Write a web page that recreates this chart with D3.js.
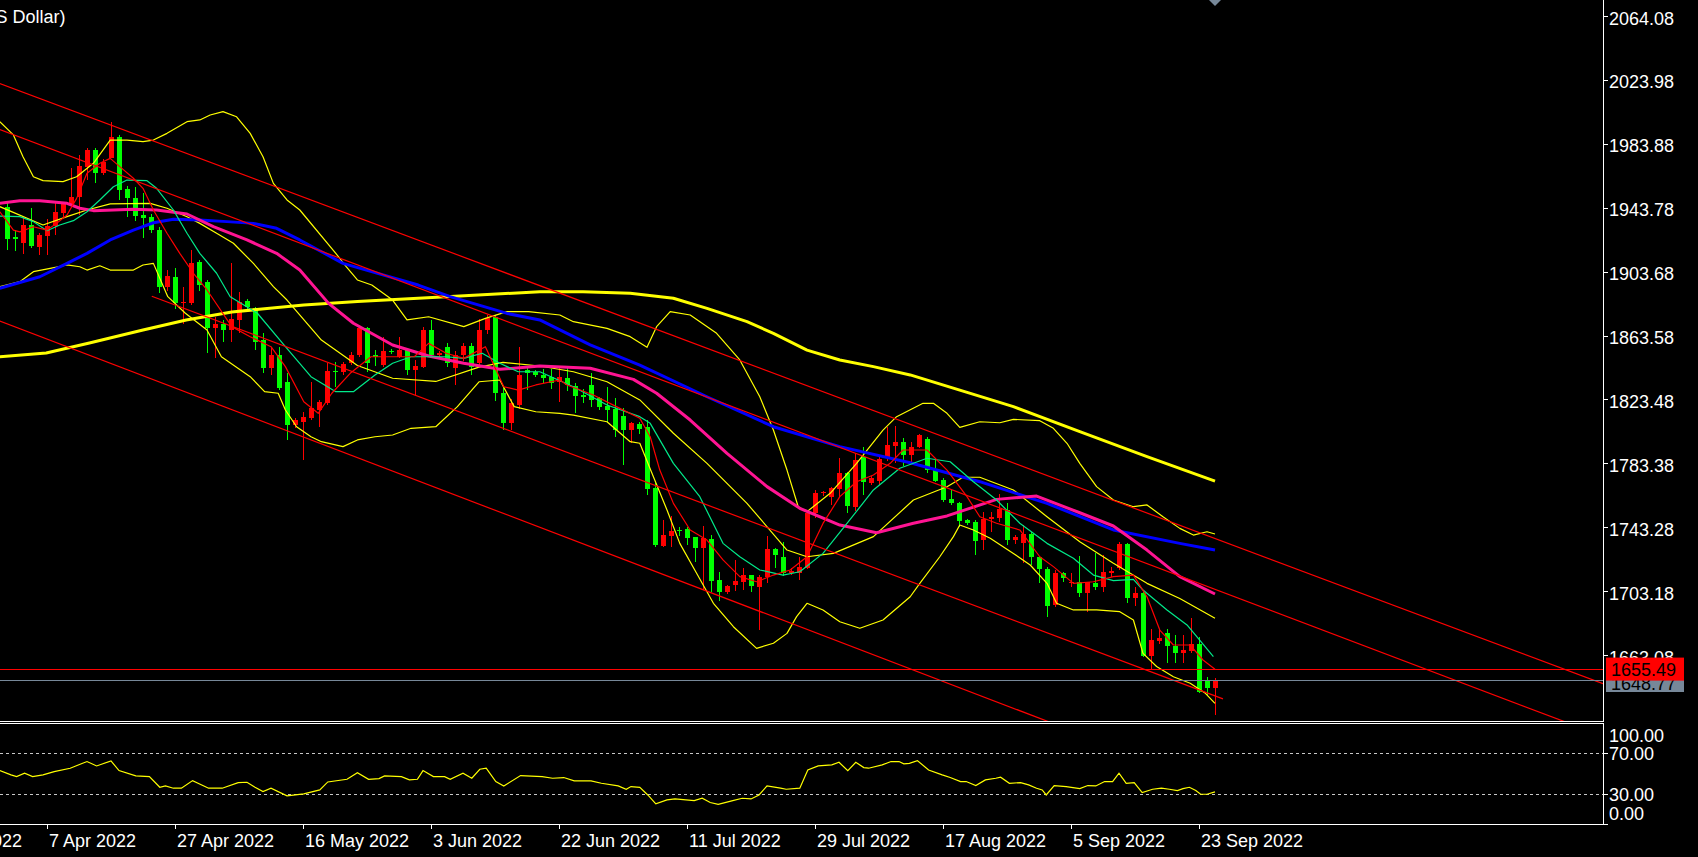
<!DOCTYPE html>
<html><head><meta charset="utf-8">
<script src="https://cdn.jsdelivr.net/npm/d3@7"></script>
<style>html,body{margin:0;padding:0;background:#000;overflow:hidden}text{font-family:"Liberation Sans",Arial,sans-serif;font-size:18px}</style>
</head><body>
<svg id="c" width="1698" height="857"></svg>
<script>
// ---------------- DATA ----------------
const titleText = "Gold (US Dollar)";
// daily bars, index 0 = 1 Apr 2022 ... index 151 = 26 Sep 2022
const open = [1945.7,1926.8,1923.1,1934.2,1920.6,1927.5,1933.7,1941.9,1947.4,1951.6,
1970.8,1981.2,1966.6,1976.0,1989.2,1956.6,1951.3,1940.5,1939.4,1931.0,
1895.5,1901.7,1885.0,1885.0,1910.7,1898.6,1869.7,1872.0,1868.3,1874.6,
1886.5,1881.9,1862.0,1844.2,1852.6,1835.9,1808.7,1810.8,1812.9,1818.1,
1822.3,1842.8,1842.1,1847.4,1852.6,1869.7,1852.6,1846.3,1855.3,1851.5,
1855.7,1843.2,1845.3,1868.3,1852.6,1857.8,1844.2,1852.6,1858.3,1847.4,
1868.3,1876.6,1828.5,1809.7,1821.2,1843.2,1842.0,1840.0,1838.6,1835.9,
1837.9,1833.4,1827.5,1833.8,1825.4,1820.6,1818.7,1814.5,1805.5,1809.3,
1807.6,1768.9,1732.7,1739.0,1742.8,1743.4,1738.2,1731.7,1737.1,1711.4,
1703.7,1708.3,1710.4,1714.5,1707.2,1713.1,1731.0,1726.0,1715.6,1716.0,
1718.7,1753.2,1765.8,1763.3,1768.5,1778.3,1757.4,1788.4,1772.5,1773.7,
1788.8,1795.7,1798.2,1789.8,1794.7,1799.7,1781.0,1774.1,1762.2,1759.5,
1749.0,1747.6,1736.5,1749.4,1750.5,1755.3,1736.5,1734.8,1740.3,1726.0,
1718.3,1695.7,1716.0,1709.7,1709.9,1703.0,1709.7,1706.8,1715.6,1718.7,
1734.0,1699.9,1703.0,1663.9,1673.3,1677.9,1670.0,1665.4,1667.0,1671.2,
1648.2,1643.8];
const high = [1948.0,1931.0,1939.4,1944.7,1929.2,1937.9,1947.8,1948.8,1969.7,1978.1,
1982.3,1982.3,1975.4,1999.0,1990.7,1958.7,1958.2,1954.5,1941.1,1933.1,
1905.9,1907.0,1895.5,1918.5,1912.2,1899.7,1876.6,1874.6,1910.1,1892.3,
1888.0,1882.9,1866.2,1857.8,1857.8,1841.1,1812.8,1817.0,1835.8,1824.4,
1847.4,1848.4,1848.0,1854.7,1870.4,1870.4,1856.0,1864.1,1856.5,1864.1,
1856.7,1849.5,1870.4,1874.6,1855.0,1860.0,1855.0,1860.0,1860.0,1875.0,
1877.5,1878.0,1832.0,1825.0,1857.8,1845.3,1843.5,1844.0,1843.6,1844.2,
1844.9,1834.8,1831.0,1841.1,1826.5,1832.7,1825.4,1819.1,1810.8,1810.8,
1811.8,1772.1,1749.0,1751.8,1744.4,1744.4,1738.6,1745.3,1739.6,1716.6,
1708.3,1723.9,1718.7,1714.8,1714.5,1739.0,1731.3,1735.5,1718.7,1726.0,
1755.3,1767.9,1767.5,1769.9,1787.8,1779.4,1790.9,1795.1,1776.5,1788.8,
1807.6,1808.0,1800.3,1798.2,1803.0,1801.3,1786.7,1775.2,1767.9,1760.5,
1749.5,1749.0,1754.3,1754.3,1765.4,1759.9,1739.6,1745.9,1741.7,1726.5,
1719.8,1717.7,1716.6,1715.6,1726.5,1710.4,1728.5,1727.1,1719.8,1735.5,
1734.4,1707.2,1704.1,1680.4,1680.4,1680.4,1676.9,1676.9,1687.3,1675.8,
1650.3,1649.6];
const low = [1918.5,1918.0,1915.8,1919.6,1915.4,1915.4,1927.9,1939.4,1945.7,1940.5,
1962.4,1960.7,1965.6,1976.0,1949.9,1939.4,1936.9,1926.2,1929.0,1891.3,
1893.0,1881.3,1872.0,1884.0,1893.0,1853.6,1850.5,1860.9,1860.9,1866.2,
1881.0,1855.7,1841.1,1840.0,1830.6,1799.2,1806.5,1786.7,1811.8,1807.6,
1821.2,1832.7,1840.0,1846.3,1851.5,1842.1,1846.0,1845.3,1853.5,1850.5,
1840.0,1827.5,1844.2,1851.5,1850.5,1845.0,1833.8,1849.0,1840.0,1845.3,
1866.0,1824.0,1805.5,1805.5,1819.0,1830.6,1839.0,1835.0,1831.0,1823.3,
1830.0,1816.4,1822.3,1820.2,1818.1,1810.8,1801.4,1783.6,1797.2,1803.0,
1764.7,1732.3,1732.0,1732.3,1739.0,1733.4,1722.9,1705.1,1704.1,1698.2,
1702.6,1704.5,1705.1,1704.1,1680.0,1709.3,1718.7,1713.9,1714.5,1711.4,
1718.1,1750.1,1764.0,1758.5,1763.7,1753.7,1755.0,1764.7,1771.0,1771.0,
1786.0,1784.6,1782.9,1785.6,1794.0,1778.3,1773.1,1760.5,1758.5,1744.9,
1746.0,1727.1,1730.2,1741.7,1748.0,1733.4,1734.0,1721.9,1720.8,1709.3,
1688.4,1694.7,1710.0,1707.2,1700.9,1691.5,1705.1,1704.1,1713.5,1717.7,
1696.7,1695.0,1663.3,1654.9,1671.0,1659.1,1659.1,1659.1,1665.4,1640.3,
1639.2,1626.7];
const close = [1925.4,1925.2,1934.2,1921.2,1927.9,1933.7,1942.1,1947.4,1951.9,1971.2,
1981.2,1966.6,1973.5,1989.2,1956.1,1950.9,1939.8,1938.8,1931.0,1895.5,
1902.2,1885.0,1886.0,1910.1,1896.5,1869.3,1872.0,1868.3,1875.2,1886.1,
1882.9,1860.9,1844.2,1852.6,1831.7,1808.7,1811.8,1813.9,1819.2,1823.3,
1842.8,1842.1,1846.9,1852.6,1869.7,1847.4,1851.5,1855.3,1854.3,1855.7,
1843.2,1845.9,1868.3,1852.6,1854.0,1847.4,1852.6,1858.3,1845.3,1868.3,
1875.6,1828.5,1809.7,1822.3,1840.0,1841.1,1840.0,1837.9,1835.2,1838.6,
1833.8,1826.9,1826.5,1824.4,1819.8,1818.1,1805.5,1805.5,1809.7,1806.0,
1768.5,1733.4,1739.6,1742.3,1742.1,1737.5,1731.7,1737.5,1710.8,1704.1,
1707.6,1710.8,1714.5,1707.6,1713.5,1731.0,1727.1,1716.0,1717.2,1719.3,
1753.2,1765.8,1766.8,1768.9,1778.3,1757.8,1786.7,1773.1,1775.2,1787.3,
1796.1,1798.2,1789.6,1795.1,1802.4,1780.4,1773.7,1761.6,1759.5,1748.6,
1746.9,1736.1,1749.7,1751.1,1755.7,1736.5,1738.6,1740.3,1725.6,1718.1,
1695.3,1716.0,1712.4,1710.4,1703.0,1709.9,1706.8,1716.2,1717.2,1734.0,
1699.9,1703.4,1663.7,1673.7,1675.0,1670.0,1665.4,1667.5,1671.2,1641.3,
1643.4,1648.77];

// indicator lines: [bar position, value]
const maSlowYellow = [[-0.9,1851.5],[4.9,1853.9],[10.3,1860.1],[17,1868.3],[22.4,1874.6],[28.1,1879.6],[37.1,1884.0],[43.8,1886.1],[54.9,1889.2],[66.6,1892.3],[72,1892.3],[77.9,1891.3],[83.3,1888.2],[87.5,1881.9],[92.5,1873.5],[95.8,1866.2],[100,1855.7],[104.1,1849.5],[108.3,1845.3],[112.9,1840.1],[119.1,1830.6],[125.8,1820.2],[134.1,1804.5],[142.5,1788.8],[151,1773.5]];
const maBlue = [[-0.9,1894.5],[4.1,1901.7],[7.5,1910.1],[10,1916.4],[12.9,1924.8],[15.8,1931.0],[18.3,1935.6],[20.8,1937.8],[24.1,1937.3],[27.5,1936.3],[30.8,1935.2],[33.7,1932.1],[36.6,1924.8],[42,1910.1],[51.4,1896.5],[55.4,1889.2],[62.5,1878.7],[66.6,1874.6],[72.9,1858.9],[79.1,1846.3],[87.5,1826.4],[95.8,1807.6],[104.1,1795.1],[112.9,1785.0],[121.6,1773.1],[130,1759.5],[138.3,1742.8],[146.6,1734.4],[151,1730.2]];
const maPink = [[-0.9,1947.8],[1.6,1949.4],[4.1,1949.4],[7.5,1947.8],[9.1,1944.7],[10.8,1943.2],[15.8,1944.0],[18.7,1943.6],[22.5,1941.1],[25.8,1933.1],[30,1924.8],[33.7,1916.4],[36.6,1905.9],[40.2,1885.0],[43.3,1872.5],[48.2,1858.9],[52.7,1852.0],[57.1,1847.4],[61.6,1843.6],[66.6,1845.7],[72.9,1844.3],[78.3,1837.3],[81.2,1828.6],[85.4,1811.8],[90,1790.9],[95,1770.0],[99.1,1756.4],[104.1,1745.9],[108.7,1741.1],[113.3,1747.0],[117.5,1751.6],[123.7,1762.0],[128.7,1764.1],[134.1,1753.6],[138.3,1745.3],[142.5,1730.2],[146.6,1713.5],[151,1702.6]];
const maFastRed = [[-0.9,1942.5],[0.8,1931.0],[1.6,1929.9],[3.3,1933.1],[5,1931.0],[6.2,1935.2],[7.5,1940.5],[8.7,1950.9],[10,1966.6],[11.6,1972.9],[12.9,1976.0],[14.1,1970.8],[15.8,1963.5],[17,1957.2],[18.3,1943.6],[20,1929.0],[21.6,1916.4],[23.3,1903.9],[25,1893.4],[28.1,1870.4],[30.4,1864.1],[33,1857.8],[34.8,1845.3],[37.1,1823.3],[38.9,1816.0],[40.6,1828.6],[42.9,1841.1],[45.5,1851.5],[48.2,1851.5],[50.9,1851.5],[52.7,1859.9],[54.9,1853.7],[57.1,1850.5],[59.8,1857.8],[62.1,1832.7],[63.9,1830.6],[66.1,1833.8],[69.1,1836.9],[70,1833.8],[73.3,1827.5],[76.6,1819.1],[79.1,1812.9],[80.4,1801.3],[81.6,1780.4],[83.3,1759.5],[85.4,1742.8],[87.5,1736.5],[89.5,1724.0],[91.6,1713.5],[93.7,1710.3],[95.8,1714.5],[97.9,1717.7],[100,1726.0],[102,1746.9],[104.1,1763.7],[106.2,1773.1],[108.3,1777.3],[110.4,1784.6],[112,1793.0],[115,1793.0],[117.5,1780.4],[120,1763.7],[121.6,1751.1],[123.7,1747.0],[126.6,1742.8],[129.1,1726.0],[130.8,1719.8],[133.3,1709.3],[135.8,1710.3],[138.3,1713.5],[140.8,1714.5],[142.5,1700.9],[144.1,1680.0],[145.8,1670.6],[147.9,1670.6],[149.5,1661.2],[151,1655.4]];
const maGreen = [[-0.9,1939.8],[1.6,1939.4],[3.3,1936.3],[5,1930.6],[6.6,1934.2],[8.3,1936.9],[10,1942.5],[11.6,1949.9],[13.3,1958.2],[15,1962.4],[17.5,1962.0],[18.7,1957.2],[20.8,1943.6],[22.5,1929.0],[24.1,1916.4],[26.2,1903.9],[27.9,1889.2],[31.3,1878.8],[34.8,1857.8],[38,1839.0],[41.1,1829.6],[43.3,1829.6],[46,1840.0],[48.2,1847.4],[50.5,1851.5],[54.9,1851.5],[57.1,1850.5],[59.4,1853.7],[61.6,1847.4],[63.9,1842.1],[66.6,1842.1],[70.8,1832.7],[75,1821.2],[79.1,1813.9],[80.4,1809.7],[83.3,1784.6],[86.6,1763.7],[89.5,1734.4],[91.6,1726.0],[94.1,1717.7],[97,1714.5],[99.1,1716.6],[102,1728.1],[105,1746.9],[108.3,1767.9],[111.6,1781.5],[115,1787.8],[117.9,1785.6],[120.8,1773.1],[123.7,1761.6],[126.6,1747.0],[130,1734.4],[133.3,1725.0],[135.8,1714.5],[138.3,1711.0],[140.8,1711.8],[142,1705.1],[145,1692.6],[147.5,1683.2],[150.8,1663.3]];
const bbUpper = [[-0.9,1999.0],[0.8,1990.7],[2,1977.0],[3.3,1964.5],[4.5,1962.0],[7,1961.4],[8.7,1964.5],[10.8,1972.9],[12.9,1987.5],[15,1987.5],[17,1986.5],[18.3,1987.5],[20,1991.7],[22.5,1999.0],[24.1,2000.1],[25.4,2003.2],[27,2005.3],[28.7,2002.1],[30.4,1991.7],[32,1977.0],[33.3,1960.3],[35,1949.9],[36.6,1943.6],[41.1,1916.4],[42.4,1908.0],[43.8,1899.7],[45.6,1896.5],[48.2,1887.1],[50,1874.6],[52.7,1876.6],[57.1,1870.4],[59.8,1875.6],[62.5,1879.8],[65.2,1879.8],[69.1,1877.7],[70.8,1873.5],[75,1869.3],[77.9,1864.1],[80,1857.4],[81.2,1870.4],[82.9,1879.8],[85.4,1877.7],[88.7,1866.2],[91.6,1849.5],[94.1,1826.4],[95.8,1805.5],[97.5,1780.4],[98.9,1757.4],[100,1754.3],[102.9,1765.8],[106.2,1784.6],[109.5,1805.5],[111.2,1813.9],[114.5,1822.3],[115.8,1822.3],[117.5,1816.0],[119.1,1807.2],[121.6,1810.7],[124.1,1810.1],[125.8,1812.2],[129.1,1811.4],[130.8,1806.6],[132.5,1797.2],[134.1,1784.6],[136.2,1770.0],[138.3,1761.6],[140.8,1757.4],[142.5,1758.5],[144.5,1751.1],[146.6,1743.8],[148.3,1739.6],[150,1741.7],[151,1740.3]];
const bbMiddle = [[-0.9,1945.7],[4.5,1934.2],[7.5,1939.4],[10,1943.6],[12.9,1947.4],[17.9,1947.8],[20,1944.7],[22.5,1939.4],[24.1,1935.2],[26.2,1929.0],[28.3,1922.7],[30.8,1910.1],[33.3,1895.5],[35,1887.1],[39.3,1862.0],[43.8,1846.0],[48.2,1838.0],[53.6,1836.0],[59,1845.0],[62,1848.0],[66.6,1845.7],[70.8,1842.1],[75,1835.8],[79.1,1824.4],[83.3,1803.5],[87.5,1784.6],[92.5,1759.5],[97.5,1730.2],[100,1726.0],[103.3,1728.1],[108.3,1738.6],[113.3,1761.6],[117.5,1769.9],[119.5,1775.9],[121.6,1775.9],[125.8,1767.9],[130,1751.1],[134.1,1735.4],[138.3,1721.9],[142.5,1709.3],[146.6,1699.8],[151,1687.4]];
const bbLower = [[-0.9,1895.5],[1.6,1898.6],[3.3,1904.9],[5.4,1907.0],[7.5,1909.1],[9.1,1908.0],[10,1905.9],[11.6,1908.6],[12.9,1905.9],[15.8,1905.9],[17,1909.1],[18.3,1910.1],[20.1,1889.2],[22.3,1878.8],[25,1868.3],[26.8,1851.5],[28.6,1845.3],[30.4,1839.0],[32.2,1829.6],[33.9,1828.6],[34.8,1818.1],[36.2,1807.6],[38,1801.3],[39.3,1798.2],[42,1795.1],[43.8,1799.3],[46,1801.3],[48.2,1802.4],[50.5,1806.6],[53.6,1807.6],[56.3,1820.2],[59,1835.8],[61.6,1836.9],[63.4,1820.2],[66.1,1817.0],[69.1,1816.0],[70.8,1814.9],[75,1810.7],[77.9,1798.2],[79.1,1797.2],[80.8,1776.2],[82.5,1755.3],[84.1,1734.4],[86.2,1715.6],[88.3,1696.8],[90.8,1682.1],[93.7,1668.5],[95.8,1671.7],[97.5,1677.9],[98.7,1688.4],[100,1696.8],[102,1692.6],[104.1,1685.2],[106.6,1681.1],[109.5,1686.3],[112.9,1700.9],[114.1,1709.3],[116.6,1726.0],[118.3,1738.6],[119.1,1745.9],[120.8,1742.8],[122.9,1737.6],[125.8,1728.1],[127.9,1720.8],[130,1709.3],[131.2,1696.8],[133.3,1692.6],[136.2,1692.6],[139.1,1691.5],[140.8,1686.3],[142,1665.4],[143.7,1657.1],[145.8,1650.7],[147.9,1646.6],[149.8,1640.3],[151,1634.0]];
const rsi = [[-0.9,53.1],[0.5,48.9],[1.2,47.2],[2.2,50.5],[3.2,47.2],[4.5,48.9],[5.9,52.1],[7.9,55.4],[10,61.9],[11.2,57.6],[13,62.5],[14,53.1],[16.1,47.9],[17.8,47.2],[19.1,36.8],[19.8,38.1],[20.8,35.9],[21.8,35.9],[23.2,43.3],[25.2,35.9],[26.9,35.9],[28.9,41.4],[30,41.7],[31,36.8],[32,32.6],[33,35.9],[35,28.4],[37.1,30.3],[39.1,34.2],[40.1,42.0],[42.5,44.6],[43.8,51.1],[45.2,44.6],[46.5,45.3],[47.2,47.9],[49.3,47.2],[50.3,44.0],[51.3,44.6],[52,53.1],[53.3,47.2],[54.7,47.2],[55.4,44.6],[57,50.5],[58.1,45.6],[59.1,54.4],[59.9,55.4],[61.1,42.4],[62.1,38.1],[64.2,48.2],[66.9,47.2],[68.2,45.6],[69.6,46.3],[70.9,43.0],[73,43.0],[74.3,40.7],[76.4,38.1],[77.4,34.9],[78,37.5],[79.1,36.8],[80.1,29.3],[81.1,20.6],[82.5,24.5],[83.5,25.4],[85.9,23.8],[86.9,26.1],[87.9,21.9],[88.9,20.2],[90.6,23.5],[91.9,26.1],[93,25.4],[94,29.3],[95,38.1],[96.7,35.9],[97.4,34.9],[99.1,35.9],[100.1,53.7],[101.4,57.6],[103.1,58.6],[104,61.2],[105.1,53.1],[106.1,61.2],[107.1,56.0],[107.7,55.4],[109.4,58.6],[110.5,61.9],[111.5,61.9],[112.1,59.6],[112.8,60.2],[113.8,62.8],[115.2,53.7],[116.9,48.9],[117.9,46.3],[119.2,42.4],[119.9,42.4],[121.1,38.5],[122.3,44.0],[123.6,45.6],[124.2,46.6],[125.3,40.7],[126.7,41.4],[127.7,39.1],[128.7,35.9],[129.4,34.2],[129.9,29.3],[130.9,38.5],[132.4,37.5],[134.1,35.5],[135.1,38.5],[136.1,38.1],[137.2,42.4],[138.2,42.4],[139,50.5],[139.9,40.7],[140.9,41.4],[141.9,31.6],[143.2,34.9],[144.3,35.9],[145.3,34.9],[146.3,33.6],[147,35.5],[147.8,36.8],[148.6,33.6],[149.2,30.0],[150,30.0],[151,32.3]];
// channel trend lines: two anchors [bar position, price]
const trendA = [[-0.9,2023.0],[199.5,1646.3]];
const trendB = [[-0.9,1994.1],[199.5,1613.4]];
const trendC = [[18.1,1889.5],[152,1636.8]];
const trendD = [[-0.9,1873.9],[136.6,1610.2]];
const levelRed = 1655.49;
const levelBid = 1648.77;
const priceTicks = [2064.08,2023.98,1983.88,1943.78,1903.68,1863.58,1823.48,1783.38,1743.28,1703.18,1663.08];
const rsiTicks = [100,70,30,0];
const rsiLevels = [70,30];
const timeTickIdx = [-11,5,21,37,53,69,85,101,117,133,149];
const timeTickLabels = ["20 Mar 2022","7 Apr 2022","27 Apr 2022","16 May 2022","3 Jun 2022","22 Jun 2022","11 Jul 2022","29 Jul 2022","17 Aug 2022","5 Sep 2022","23 Sep 2022"];

// ---------------- LAYOUT ----------------
const plotRight = 1603, mainBottom = 721, rsiTop = 723, rsiBottom = 824;
const x = d3.scaleLinear().domain([0,151]).range([7,1215]);
const y = d3.scaleLinear().domain([1622.92,2075.38]).range([721,0]);
const yr = d3.scaleLinear().domain([0,100]).range([825,722.5]);

const svg = d3.select("#c");
svg.append("rect").attr("width",1698).attr("height",857).attr("fill","#000");
const defs = svg.append("defs");
defs.append("clipPath").attr("id","cm").append("rect").attr("x",0).attr("y",0).attr("width",plotRight).attr("height",mainBottom);
defs.append("clipPath").attr("id","cr").append("rect").attr("x",0).attr("y",rsiTop+1).attr("width",plotRight).attr("height",rsiBottom-rsiTop-1);

const main = svg.append("g").attr("clip-path","url(#cm)");

// candles
const gC = main.append("g").attr("shape-rendering","crispEdges");
d3.range(open.length).forEach(i => {
  const up = close[i] >= open[i];
  const col = up ? "#ff0000" : "#00ff00";
  const cx = Math.round(x(i)) + 0.5;
  gC.append("line").attr("x1",cx).attr("x2",cx).attr("y1",y(high[i])).attr("y2",y(low[i])).attr("stroke",col).attr("stroke-width",1);
  const t = y(Math.max(open[i],close[i])), b = y(Math.min(open[i],close[i]));
  gC.append("rect").attr("x",cx-2.5).attr("width",5).attr("y",t).attr("height",Math.max(1,b-t)).attr("fill",col);
});

const line = d3.line().x(d => x(d[0])).y(d => y(d[1]));
function path(g, data, color, w){
  g.append("path").attr("d",line(data)).attr("fill","none").attr("stroke",color).attr("stroke-width",w).attr("stroke-linejoin","round");
}
const gI = main.append("g");
path(gI, bbUpper, "#ffff00", 1.2);
path(gI, bbMiddle, "#ffff00", 1.2);
path(gI, bbLower, "#ffff00", 1.2);
path(gI, maSlowYellow, "#ffff00", 3);
path(gI, maBlue, "#0000ff", 3);
path(gI, maPink, "#ff1493", 3);
path(gI, maGreen, "#00e98a", 1.2);
path(gI, maFastRed, "#ff0000", 1.2);

// trend lines
[trendA,trendB,trendC,trendD].forEach(t => path(main, t, "#ff0000", 1.2));

// horizontal lines
main.append("line").attr("x1",0).attr("x2",plotRight).attr("y1",Math.round(y(levelRed))+0.5).attr("y2",Math.round(y(levelRed))+0.5).attr("stroke","#ff0000").attr("shape-rendering","crispEdges");
main.append("line").attr("x1",0).attr("x2",plotRight).attr("y1",Math.round(y(levelBid))+0.5).attr("y2",Math.round(y(levelBid))+0.5).attr("stroke","#778899").attr("stroke-width",1.5).attr("shape-rendering","crispEdges");

// shift marker
const sx = x(151);
svg.append("path").attr("d",`M${sx-6},0L${sx+6},0L${sx},6Z`).attr("fill","#778899");

// title
svg.append("text").attr("x",65.5).attr("y",23).attr("text-anchor","end").attr("fill","#fff").text(titleText);

// RSI panel
const rg = svg.append("g").attr("clip-path","url(#cr)");
rsiLevels.forEach(v => {
  rg.append("line").attr("x1",0).attr("x2",plotRight).attr("y1",Math.round(yr(v))+0.5).attr("y2",Math.round(yr(v))+0.5)
    .attr("stroke","#c8c8c8").attr("stroke-dasharray","3,3").attr("shape-rendering","crispEdges");
});
rg.append("path").attr("d",d3.line().x(d=>x(d[0])).y(d=>yr(d[1]))(rsi)).attr("fill","none").attr("stroke","#ffff00").attr("stroke-width",1.2);

// frames
const fr = svg.append("g").attr("stroke","#fff").attr("shape-rendering","crispEdges");
fr.append("line").attr("x1",plotRight+0.5).attr("x2",plotRight+0.5).attr("y1",0).attr("y2",mainBottom+0.5);
fr.append("line").attr("x1",0).attr("x2",plotRight+0.5).attr("y1",mainBottom+0.5).attr("y2",mainBottom+0.5);
fr.append("line").attr("x1",0).attr("x2",plotRight+0.5).attr("y1",rsiTop+0.5).attr("y2",rsiTop+0.5);
fr.append("line").attr("x1",plotRight+0.5).attr("x2",plotRight+0.5).attr("y1",rsiTop).attr("y2",rsiBottom+0.5);
fr.append("line").attr("x1",0).attr("x2",plotRight+5).attr("y1",rsiBottom+0.5).attr("y2",rsiBottom+0.5);

// price axis
const pa = svg.append("g");
priceTicks.forEach(v => {
  const yy = y(v);
  pa.append("line").attr("x1",plotRight).attr("x2",plotRight+5).attr("y1",Math.round(yy-2)+0.5).attr("y2",Math.round(yy-2)+0.5).attr("stroke","#fff").attr("shape-rendering","crispEdges");
  pa.append("text").attr("x",1609).attr("y",yy+6.5).attr("fill","#fff").text(v.toFixed(2));
});
// current price labels
const bidY = y(levelBid), redY = y(levelRed);
pa.append("rect").attr("x",1606).attr("y",669).attr("width",78).attr("height",23).attr("fill","#778899");
pa.append("text").attr("x",1611).attr("y",689.5).attr("fill","#000").text(levelBid.toFixed(2));
pa.append("rect").attr("x",1606).attr("y",redY-11.5).attr("width",78).attr("height",23).attr("fill","#ff0000");
pa.append("text").attr("x",1611).attr("y",redY+7).attr("fill","#000").text(levelRed.toFixed(2));

// RSI axis
rsiTicks.forEach(v => {
  const yy = yr(v);
  const cy = Math.max(735, Math.min(813.5, yy));
  if (v > 0 && v < 100) pa.append("line").attr("x1",plotRight).attr("x2",plotRight+5).attr("y1",Math.round(yy)+0.5).attr("y2",Math.round(yy)+0.5).attr("stroke","#fff").attr("shape-rendering","crispEdges");
  pa.append("text").attr("x",1609).attr("y",cy+6.5).attr("fill","#fff").text(v.toFixed(2));
});

// time axis
timeTickIdx.forEach((ti,k) => {
  const xx = Math.round(x(ti)) + 0.5;
  pa.append("line").attr("x1",xx).attr("x2",xx).attr("y1",rsiBottom).attr("y2",rsiBottom+5).attr("stroke","#fff").attr("shape-rendering","crispEdges");
  pa.append("text").attr("x",xx+1.5).attr("y",847).attr("fill","#fff").text(timeTickLabels[k]);
});
</script>
</body></html>
